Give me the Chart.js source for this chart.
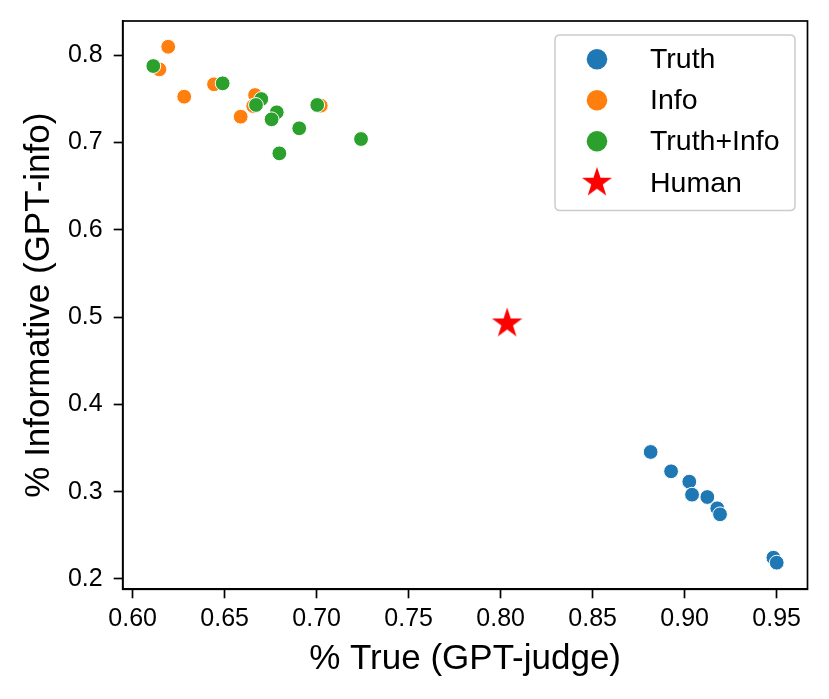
<!DOCTYPE html>
<html>
<head>
<meta charset="utf-8">
<script src="https://cdn.jsdelivr.net/npm/chart.js@4.4.1/dist/chart.umd.min.js"></script>
<style>
  html, body { margin: 0; padding: 0; background: #fff; }
  #wrap { width: 829px; height: 699px; }
</style>
</head>
<body>
<div id="wrap"><canvas id="c" width="829" height="699"></canvas></div>
<script>
// ---- Data ----
const seriesNames = ["Truth", "Info", "Truth+Info", "Human"];
const seriesColors = ["#1f77b4", "#ff7f0e", "#2ca02c", "#ff0000"];

const truthX = [0.8815, 0.8926, 0.9025, 0.9040, 0.9123, 0.9177, 0.9192, 0.9482, 0.9500];
const truthY = [0.3455, 0.3234, 0.3115, 0.2966, 0.2939, 0.2810, 0.2741, 0.2244, 0.2187];

const infoX = [0.6193, 0.6145, 0.6280, 0.6442, 0.6665, 0.6655, 0.6587, 0.7022];
const infoY = [0.8097, 0.7838, 0.7525, 0.7667, 0.7544, 0.7418, 0.7296, 0.7422];

const bothX = [0.6112, 0.6489, 0.6699, 0.6670, 0.6783, 0.6755, 0.6905, 0.7003, 0.6797, 0.7241];
const bothY = [0.7876, 0.7678, 0.7498, 0.7430, 0.7346, 0.7266, 0.7163, 0.7430, 0.6876, 0.7040];

const humanX = [0.8035];
const humanY = [0.4927];

const xTickValues = [0.60, 0.65, 0.70, 0.75, 0.80, 0.85, 0.90, 0.95];
const yTickValues = [0.2, 0.3, 0.4, 0.5, 0.6, 0.7, 0.8];
const xRange = [0.59457, 0.96674];
const yRange = [0.1882, 0.8392];

const xTitle = "% True (GPT-judge)";
const yTitle = "% Informative (GPT-info)";

// ---- helpers ----
function pts(xs, ys) { return xs.map((x, i) => ({ x: x, y: ys[i] })); }

function makeStar(R, color) {
  const size = Math.ceil(2 * R + 2);
  const cv = document.createElement('canvas');
  cv.width = size; cv.height = size;
  const g = cv.getContext('2d');
  const cx = size / 2, cy = size / 2, r = R * 0.381966;
  g.beginPath();
  for (let i = 0; i < 10; i++) {
    const rad = (i % 2 === 0) ? R : r;
    const a = -Math.PI / 2 + i * Math.PI / 5;
    const px = cx + rad * Math.cos(a), py = cy + rad * Math.sin(a);
    if (i === 0) g.moveTo(px, py); else g.lineTo(px, py);
  }
  g.closePath();
  g.fillStyle = color;
  g.fill();
  return cv;
}

const starPlot = makeStar(16, seriesColors[3]);
const starLegend = makeStar(15.8, seriesColors[3]);

const FONT = "'Liberation Sans', Arial, Helvetica, sans-serif";
Chart.defaults.color = '#000';
Chart.defaults.font.family = FONT;

const framePlugin = {
  id: 'frameAndLegend',
  afterDraw(chart) {
    const ctx = chart.ctx;
    const a = chart.chartArea;
    ctx.save();
    // full frame
    ctx.strokeStyle = '#000';
    ctx.lineWidth = 1.7;
    ctx.strokeRect(a.left, a.top, a.right - a.left, a.bottom - a.top);

    // legend box
    const bx = 555, by = 35, bw = 240, bh = 175.5, rr = 5;
    ctx.beginPath();
    ctx.moveTo(bx + rr, by);
    ctx.lineTo(bx + bw - rr, by);
    ctx.quadraticCurveTo(bx + bw, by, bx + bw, by + rr);
    ctx.lineTo(bx + bw, by + bh - rr);
    ctx.quadraticCurveTo(bx + bw, by + bh, bx + bw - rr, by + bh);
    ctx.lineTo(bx + rr, by + bh);
    ctx.quadraticCurveTo(bx, by + bh, bx, by + bh - rr);
    ctx.lineTo(bx, by + rr);
    ctx.quadraticCurveTo(bx, by, bx + rr, by);
    ctx.closePath();
    ctx.fillStyle = 'rgba(255,255,255,0.8)';
    ctx.fill();
    ctx.strokeStyle = '#cccccc';
    ctx.lineWidth = 1.5;
    ctx.stroke();

    const rows = [59.3, 100.3, 141.3, 182.7];
    const mx = 597, tx = 650;
    ctx.font = "28.5px " + FONT;
    ctx.textBaseline = 'middle';
    ctx.textAlign = 'left';
    for (let i = 0; i < 4; i++) {
      const y = rows[i];
      if (i < 3) {
        ctx.beginPath();
        ctx.arc(mx, y, 10.3, 0, Math.PI * 2);
        ctx.fillStyle = seriesColors[i];
        ctx.fill();
      } else {
        ctx.drawImage(starLegend, mx - starLegend.width / 2, y - starLegend.height / 2);
      }
      ctx.fillStyle = '#000';
      ctx.fillText(seriesNames[i], tx, y + 1);
    }
    ctx.restore();
  }
};

const dotCommon = { pointRadius: 7.4, pointHoverRadius: 7.4, pointBorderColor: '#ffffff', pointBorderWidth: 1, pointStyle: 'circle', showLine: false };

new Chart(document.getElementById('c'), {
  type: 'scatter',
  data: {
    datasets: [
      Object.assign({ label: seriesNames[0], data: pts(truthX, truthY), backgroundColor: seriesColors[0], pointBackgroundColor: seriesColors[0], order: 3 }, dotCommon),
      Object.assign({ label: seriesNames[1], data: pts(infoX, infoY), backgroundColor: seriesColors[1], pointBackgroundColor: seriesColors[1], order: 2 }, dotCommon),
      Object.assign({ label: seriesNames[2], data: pts(bothX, bothY), backgroundColor: seriesColors[2], pointBackgroundColor: seriesColors[2], order: 1 }, dotCommon),
      { label: seriesNames[3], data: pts(humanX, humanY), pointStyle: starPlot, pointRadius: 16, pointHoverRadius: 16, backgroundColor: seriesColors[3], order: 0 }
    ]
  },
  options: {
    responsive: false,
    animation: false,
    events: [],
    layout: { padding: { top: 21, right: 21.5, left: 0, bottom: 0 } },
    plugins: { legend: { display: false }, tooltip: { enabled: false } },
    scales: {
      x: {
        type: 'linear',
        min: xRange[0], max: xRange[1],
        afterBuildTicks(scale) { scale.ticks = xTickValues.map(v => ({ value: v })); },
        afterFit(scale) { scale.height = 109.7; scale.paddingLeft = 0; scale.paddingRight = 0; },
        ticks: {
          callback: v => Number(v).toFixed(2),
          font: { size: 25, family: FONT },
          color: '#000',
          padding: 6,
          maxRotation: 0,
          autoSkip: false
        },
        grid: { display: true, drawOnChartArea: false, drawTicks: true, tickLength: 9, tickWidth: 1.7, tickColor: '#000', color: '#000' },
        border: { display: true, color: '#000', width: 1.7 },
        title: { display: true, text: xTitle, font: { size: 35, family: FONT }, color: '#000', padding: { top: 0, bottom: 19 } }
      },
      y: {
        type: 'linear',
        min: yRange[0], max: yRange[1],
        afterBuildTicks(scale) { scale.ticks = yTickValues.map(v => ({ value: v })); },
        afterFit(scale) { scale.width = 122.7; scale.paddingTop = 0; scale.paddingBottom = 0; },
        ticks: {
          callback: v => Number(v).toFixed(1),
          font: { size: 25, family: FONT },
          color: '#000',
          padding: 11,
          autoSkip: false
        },
        grid: { display: true, drawOnChartArea: false, drawTicks: true, tickLength: 9, tickWidth: 1.7, tickColor: '#000', color: '#000' },
        border: { display: true, color: '#000', width: 1.7 },
        title: { display: true, text: yTitle, font: { size: 35, family: FONT }, color: '#000', padding: { top: 18, bottom: 0 } }
      }
    }
  },
  plugins: [framePlugin]
});
</script>
</body>
</html>
